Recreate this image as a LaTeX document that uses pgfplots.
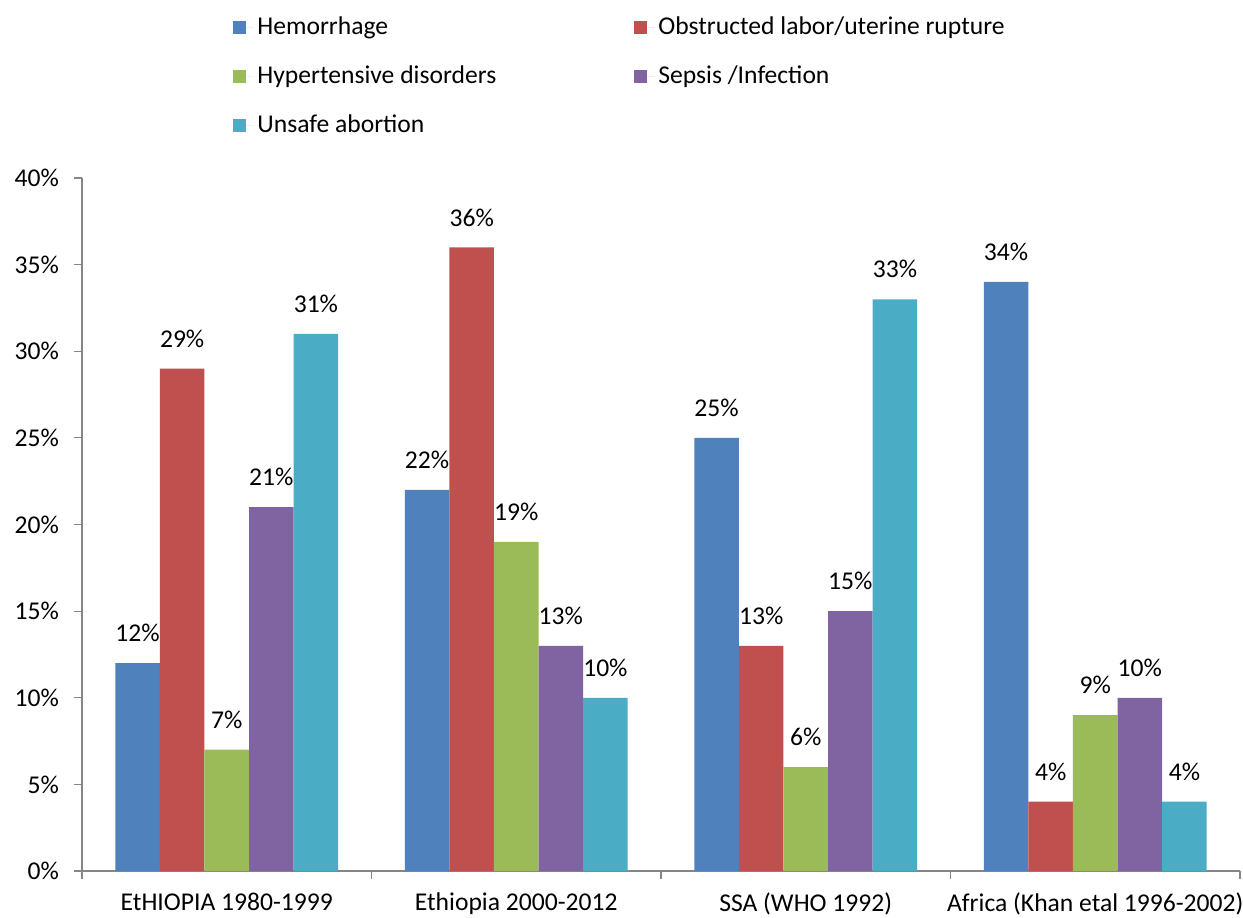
\documentclass[border=0pt]{standalone}
\usepackage{pgfplots}
\pgfplotsset{compat=1.18}
\usepackage{fontspec}
\setmainfont{Carlito}
\definecolor{c1}{HTML}{4F81BD}
\definecolor{c2}{HTML}{C0504D}
\definecolor{c3}{HTML}{9BBB59}
\definecolor{c4}{HTML}{8064A2}
\definecolor{c5}{HTML}{4BACC6}
\definecolor{axgray}{HTML}{868686}
\newcommand{\cf}{\fontsize{12.8}{15}\selectfont}
\begin{document}
\begin{tikzpicture}
\path[use as bounding box] (-41pt,-23pt) rectangle (580.5pt,435.5pt);
\begin{axis}[
  at={(0,0)}, anchor=south west,
  scale only axis, width=579pt, height=346.5pt,
  xmin=-0.5, xmax=3.5, ymin=0, ymax=40,
  /pgf/number format/assume math mode=true,
  axis x line*=bottom, axis y line*=left,
  axis line style={draw=axgray, line width=0.6pt, -},
  tick align=outside, tick pos=left,
  major tick length=4pt,
  tick style={draw=axgray, line width=0.6pt},
  ytick={0,5,...,40},
  yticklabel={\pgfmathprintnumber{\tick}\%},
  yticklabel style={font=\cf, black, xshift=-4pt},
  xtick={-0.5,0.5,1.5,2.5,3.5},
  xticklabels={},
  extra x ticks={0,1,2,3},
  extra x tick labels={EtHIOPIA 1980-1999, Ethiopia 2000-2012, SSA (WHO 1992), Africa (Khan etal 1996-2002)},
  extra x tick style={major tick length=0pt, tick label style={font=\cf, black, yshift=-7.5pt}},
  bar width=0.154,
  ybar=0pt,
  point meta=y,
  nodes near coords={\pgfmathprintnumber{\pgfplotspointmeta}\%},
  nodes near coords style={font=\cf, black, anchor=south, yshift=7pt},
  legend columns=2,
  legend style={at={(0.1252,1.245)}, anchor=north west, draw=none, fill=none,
    font=\cf, column sep=0pt, row sep=10.25pt, legend cell align=left},
  legend image code/.code={\fill[#1] (0pt,-3.25pt) rectangle (6.5pt,3.25pt); \path (0pt,0pt) -- (10pt,0pt);},
]
\addplot[fill=c1, draw=none, bar shift=-0.308] coordinates {(0,12) (1,22) (2,25) (3,34)};
\addplot[fill=c2, draw=none, bar shift=-0.154] coordinates {(0,29) (1,36) (2,13) (3,4)};
\addplot[fill=c3, draw=none, bar shift=0] coordinates {(0,7) (1,19) (2,6) (3,9)};
\addplot[fill=c4, draw=none, bar shift=0.154] coordinates {(0,21) (1,13) (2,15) (3,10)};
\addplot[fill=c5, draw=none, bar shift=0.308] coordinates {(0,31) (1,10) (2,33) (3,4)};
\legend{\makebox[186.5pt][l]{Hemorrhage}, Obstructed labor/uterine rupture, \makebox[186.5pt][l]{Hypertensive disorders}, Sepsis /Infection, \makebox[186.5pt][l]{Unsafe abortion}}
\end{axis}
\end{tikzpicture}
\end{document}
